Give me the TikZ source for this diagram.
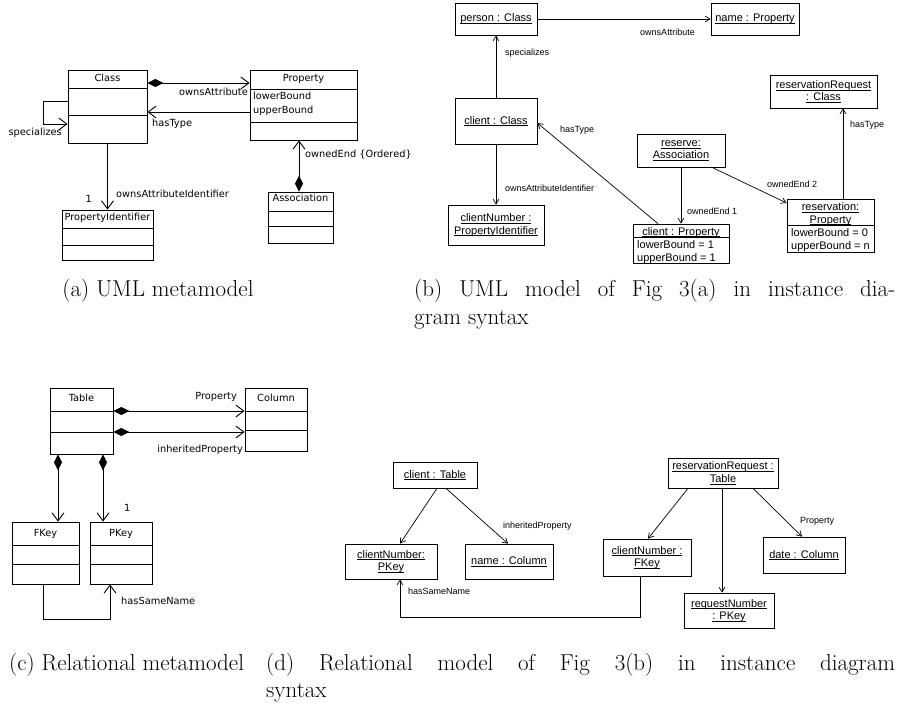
\documentclass[tikz,border=0pt]{standalone}
\usepackage{fontspec}
\newfontfamily\metafont{DejaVu Sans}
\newfontfamily\instfont{Liberation Sans}
\usetikzlibrary{arrows.meta}

% underlined object names, rule just under the baseline
\newcommand\objul[1]{\setbox0=\hbox{#1}\rlap{\rule[-1.6pt]{\wd0}{0.5pt}}\box0}

\begin{document}
\begin{tikzpicture}
    [x=1pt, y=-1pt,
    cls/.style={draw, line width=0.9pt, inner sep=0pt},
    obj/.style={draw, line width=0.7pt, inner sep=0pt, align=center,
        font=\instfont\fontsize{11}{12.5}\selectfont},
    mtext/.style={font=\metafont\fontsize{9.8}{11.5}\selectfont, inner sep=0pt},
    otext/.style={font=\instfont\fontsize{11}{12.5}\selectfont, inner sep=0pt},
    ltext/.style={font=\instfont\fontsize{9}{10}\selectfont, inner sep=0pt},
    subcap/.style={font=\fontsize{23}{28}\selectfont, inner sep=0pt, anchor=base west},
    comp/.style={line width=0.9pt, {Diamond[length=16pt, width=8pt]}-{Straight Barb[length=8pt, width=12pt]}},
    nav/.style={line width=0.9pt, -{Straight Barb[length=8pt, width=12pt]}},
    link/.style={line width=0.7pt, -{Straight Barb[length=5pt, width=6pt]}}]

    \useasboundingbox (0,0) rectangle (908,707);

    % (a) UML metamodel
    \node[cls, minimum width=79, minimum height=73] (class) at (107.5, 106.5) {};
    \node[cls, minimum width=107, minimum height=70] (property) at (303.5, 105) {};
    \node[cls, minimum width=91, minimum height=50] (propid) at (107.5, 235) {};
    \node[cls, minimum width=65, minimum height=51] (assoc) at (300.5, 217.5) {};

    \node[mtext, anchor=base] (classname) at (107.5, 81) {Class};
    \node[mtext, anchor=base] (propname) at (303.5, 81) {Property};
    \node[mtext, anchor=base west] (lower) at (253, 99.5) {lowerBound};
    \node[mtext, anchor=base west] (upper) at (253, 113) {upperBound};
    \node[mtext, anchor=base] (propidname) at (107.5, 220.5) {PropertyIdentifier};
    \node[mtext, anchor=base] (assocname) at (300.5, 201.5) {Association};

    % (c) relational metamodel
    \node[cls, minimum width=63, minimum height=66] (table) at (81.5, 421) {};
    \node[cls, minimum width=62, minimum height=63] (column) at (276, 419.5) {};
    \node[cls, minimum width=67, minimum height=62] (fkey) at (45.5, 553) {};
    \node[cls, minimum width=62, minimum height=62] (pkey) at (121, 553) {};

    \node[mtext, anchor=base] (tablename) at (81.5, 401) {Table};
    \node[mtext, anchor=base] (columnname) at (276, 401) {Column};
    \node[mtext, anchor=base] (fkeyname) at (45.5, 536) {FKey};
    \node[mtext, anchor=base] (pkeyname) at (121, 536) {PKey};

    % compartment lines
    \foreach \n/\y in {class/88, class/115, property/89, property/122, propid/228, propid/245,
        assoc/211, assoc/226, table/411, table/432, column/411, column/430,
        fkey/545, fkey/564, pkey/545, pkey/564}
        \draw[cls] (\n.west |- 0,\y) -- (\n.east |- 0,\y);

    % metamodel associations
    \draw[comp] (class.east |- 0,83) -- (property.west |- 0,83);
    \draw[nav] (property.west |- 0,112) -- (class.east |- 0,112);
    \draw[nav] (class.west |- 0,101) -- (43,101) -- (43,124) -- (class.west |- 0,124);
    \draw[nav] (class.south) -- (propid.north);
    \draw[comp] (assoc.north -| 299,0) -- (property.south -| 299,0);

    \draw[comp] (table.east |- 0,411) -- (column.west |- 0,411);
    \draw[comp] (table.east |- 0,432) -- (column.west |- 0,432);
    \draw[comp] (table.south -| 58,0) -- (fkey.north -| 58,0);
    \draw[comp] (table.south -| 103,0) -- (pkey.north -| 103,0);
    \draw[nav] (fkey.south -| 43,0) -- (43,619) -- (110,619) -- (pkey.south -| 110,0);

    \node[mtext, anchor=base east] (lowns) at (248, 95.5) {ownsAttribute};
    \node[mtext, anchor=base west] (ltype) at (152, 126) {hasType};
    \node[mtext, anchor=base east] (lspec) at (62, 135.5) {specializes};
    \node[mtext, anchor=base east] (lone) at (92, 202) {1};
    \node[mtext, anchor=base west] (lidattr) at (116, 197.5) {ownsAttributeIdentifier};
    \node[mtext, anchor=base west] (lowned) at (305, 157) {ownedEnd \{Ordered\}};

    \node[mtext, anchor=base east] (lcolprop) at (237, 399.5) {Property};
    \node[mtext, anchor=base east] (linh) at (243, 452.5) {inheritedProperty};
    \node[mtext, anchor=base west] (lkeyone) at (124, 511) {1};
    \node[mtext, anchor=base west] (lsame) at (121, 604) {hasSameName};

    % (b) UML instances
    \node[obj, minimum width=82, minimum height=32] (person) at (496, 19) {\objul{person : Class}};
    \node[obj, minimum width=88, minimum height=32] (namepr) at (755, 19) {\objul{name : Property}};
    \node[obj, minimum width=82, minimum height=46] (clientcls) at (496, 121) {\objul{client : Class}};
    \node[obj, minimum width=107, minimum height=33] (resreq) at (823.5, 91.5) {\objul{reservationRequest}\\\objul{: Class}};
    \node[obj, minimum width=88, minimum height=33] (reserve) at (681, 150.5) {\objul{reserve:}\\\objul{Association}};
    \node[obj, minimum width=96, minimum height=40] (clientnum) at (496, 225) {\objul{clientNumber :}\\\objul{PropertyIdentifier}};
    \node[obj, minimum width=96, minimum height=39] (clientprop) at (681, 243.5) {};
    \node[obj, minimum width=87, minimum height=53] (reservation) at (830.5, 225.5) {};

    \draw[obj] (clientprop.west |- 0,237) -- (clientprop.east |- 0,237);
    \draw[obj] (reservation.west |- 0,225) -- (reservation.east |- 0,225);
    \node[otext, anchor=base] (cptitle) at (681, 235) {\objul{client : Property}};
    \node[otext, anchor=base west] (cplower) at (637, 248.5) {lowerBound = 1};
    \node[otext, anchor=base west] (cpupper) at (637, 261) {upperBound = 1};
    \node[otext, anchor=base] (rtitlea) at (830.5, 210.5) {\objul{reservation:}};
    \node[otext, anchor=base] (rtitleb) at (830.5, 223) {\objul{Property}};
    \node[otext, anchor=base west] (rlower) at (791, 236) {lowerBound = 0};
    \node[otext, anchor=base west] (rupper) at (791, 249) {upperBound = n};

    \draw[link] (person.east) -- (namepr.west);
    \draw[link] (clientcls.north) -- (person.south);
    \draw[link] (clientcls.south) -- (clientnum.north);
    \draw[link] (clientprop.north -| 658,0) -- (clientcls.east |- 0,123);
    \draw[link] (reserve.south) -- (clientprop.north);
    \draw[link] (reserve.south -| 712,0) -- (reservation.west |- 0,203);
    \draw[link] (reservation.north -| 843,0) -- (resreq.south -| 843,0);

    \node[ltext, anchor=base] (lbowns) at (667.5, 35) {ownsAttribute};
    \node[ltext, anchor=base west] (lbspec) at (505, 55) {specializes};
    \node[ltext, anchor=base west] (lbidattr) at (505, 191.5) {ownsAttributeIdentifier};
    \node[ltext, anchor=base west] (lbtypea) at (560, 132) {hasType};
    \node[ltext, anchor=base west] (lbtypeb) at (850, 127.5) {hasType};
    \node[ltext, anchor=base west] (lbenda) at (687, 214.5) {ownedEnd 1};
    \node[ltext, anchor=base west] (lbendb) at (767, 187) {ownedEnd 2};

    % (d) relational instances
    \node[obj, minimum width=84, minimum height=26] (clienttab) at (435, 475) {\objul{client : Table}};
    \node[obj, minimum width=92, minimum height=35] (cnpkey) at (391, 561.5) {\objul{clientNumber:}\\\objul{PKey}};
    \node[obj, minimum width=88, minimum height=35] (namecol) at (509, 561.5) {\objul{name : Column}};
    \node[obj, minimum width=110, minimum height=30] (rrtab) at (723, 473) {\objul{reservationRequest :}\\\objul{Table}};
    \node[obj, minimum width=88, minimum height=37] (cnfkey) at (647, 557.5) {\objul{clientNumber :}\\\objul{FKey}};
    \node[obj, minimum width=82, minimum height=36] (datecol) at (804, 555) {\objul{date : Column}};
    \node[obj, minimum width=90, minimum height=35] (reqnum) at (729, 610.5) {\objul{requestNumber}\\\objul{: PKey}};

    \draw[link] (clienttab.south -| 437,0) -- (cnpkey.north -| 400,0);
    \draw[link] (clienttab.south -| 446,0) -- (namecol.north -| 508,0);
    \draw[link] (rrtab.south -| 688,0) -- (cnfkey.north -| 648,0);
    \draw[link] (rrtab.south -| 722,0) -- (reqnum.north -| 722,0);
    \draw[link] (rrtab.south -| 753,0) -- (datecol.north -| 802,0);
    \draw[link] (cnfkey.south -| 640,0) -- (640,617) -- (400,617) -- (cnpkey.south -| 400,0);

    \node[ltext, anchor=base west] (lbinh) at (503, 528) {inheritedProperty};
    \node[ltext, anchor=base west] (lbprop) at (800, 523) {Property};
    \node[ltext, anchor=base west] (lbsame) at (408, 594.5) {hasSameName};

    % sub-captions
    \node[subcap, anchor=base] (capa) at (158, 296) {(a) UML metamodel};
    \node[subcap] (capba) at (414, 296) {\makebox[481pt][s]{(b) UML model of Fig 3(a) in instance dia-}};
    \node[subcap] (capbb) at (414, 324) {gram syntax};
    \node[subcap] (capc) at (9, 670) {(c) Relational metamodel};
    \node[subcap] (capda) at (266, 670) {\makebox[629pt][s]{(d) Relational model of Fig 3(b) in instance diagram}};
    \node[subcap] (capdb) at (266, 697) {syntax};
\end{tikzpicture}
\end{document}
